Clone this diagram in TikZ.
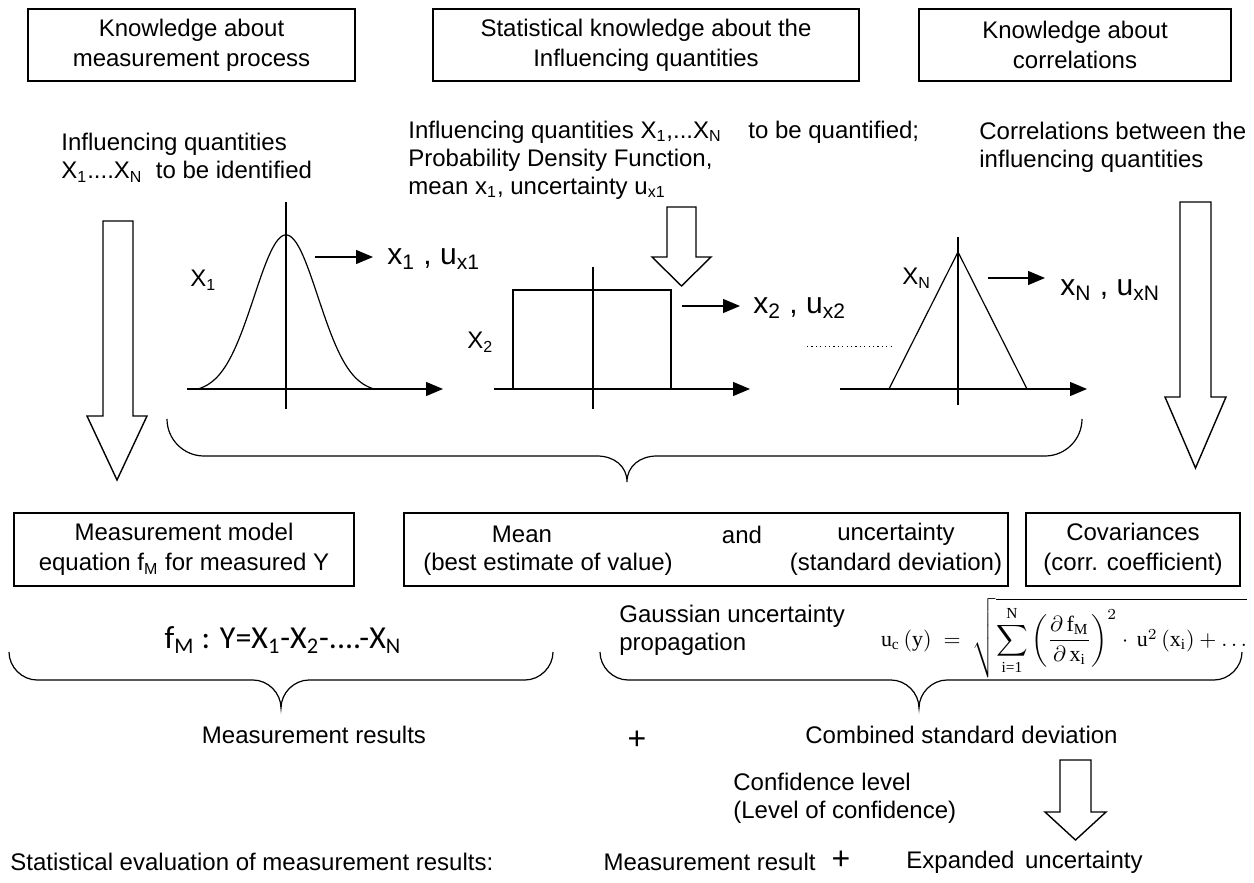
\documentclass[tikz,border=0pt]{standalone}
\usepackage{amsmath}
\usepackage{graphicx}
\usepackage{fontspec}
\setmainfont{Liberation Sans}
\newfontfamily\calib{Carlito}
\newfontfamily\timesf{Liberation Serif}
\usetikzlibrary{arrows.meta}
\newcommand\fsa{\fontsize{12}{14}\selectfont}
\newcommand\fsbox{\fontsize{12}{15}\selectfont}
\newcommand\fsb{\fontsize{15}{18}\selectfont}
\newcommand\fsc{\fontsize{16}{19}\selectfont}
\newcommand\tm[1]{\text{\timesf #1}}
\newcommand\sub[1]{\textsubscript{#1}}
\begin{document}
\begin{tikzpicture}[x=0.5pt,y=-0.5pt,
  box/.style={draw, line width=0.7pt, inner sep=0pt, align=center, font=\fsbox},
  txt/.style={inner sep=0pt, font=\fsa, align=left},
  big/.style={inner sep=0pt, font=\fsb},
  ln/.style={line width=0.6pt},
  axis/.style={line width=0.6pt, -{Triangle[length=8.5pt,width=7pt]}},
  blockarrow/.style={draw, line width=0.7pt, fill=white, line join=miter},
  brace/.style={line width=0.6pt}
]
\useasboundingbox[fill=white] (0,0) rectangle (1254,883);

% top boxes
\node[box, minimum width=163.5pt, minimum height=36pt] (k1) at (191.5,45) {Knowledge about\\measurement process};
\node[box, minimum width=213pt, minimum height=36pt] (k2) at (646,45) {Statistical knowledge about the\\Influencing quantities};
\node[box, minimum width=156pt, minimum height=36pt] (k3) at (1075,45) {Knowledge about\\correlations};

% descriptive texts
\node[txt, anchor=west] (t1) at (61,158) {Influencing quantities\\X\sub{1}....X\sub{N}\ \ to be identified};
\node[txt, anchor=west] (t2) at (408,160) {Influencing quantities X\sub{1},...X\sub{N}\ \ \ \ to be quantified;\\Probability Density Function,\\mean x\sub{1}, uncertainty u\sub{x1}};
\node[txt, anchor=west] (t3) at (979,147) {Correlations between the\\influencing quantities};

% Gaussian
\node[txt, anchor=west] (lx1) at (190,280) {X\sub{1}};
\coordinate (g1a) at (187,389); \coordinate (g1b) at (443,389);
\coordinate (g1c) at (286,202); \coordinate (g1d) at (286,409);
\draw[axis] (g1a) -- (g1b);
\draw[ln] (g1c) -- (g1d);
\draw[ln] plot[domain=-88:88, samples=80, smooth] ({286+\x},{389-157.7*(exp(-\x*\x/2048)-0.0229)});
\coordinate (a1s) at (315,257); \coordinate (a1e) at (373,257);
\draw[axis] (a1s) -- (a1e);
\node[big, anchor=west] (r1) at (387,259) {x\sub{1} , u\sub{x1}};

% rectangular
\node[txt, anchor=west] (lx2) at (467,342) {X\sub{2}};
\coordinate (g2a) at (494,389); \coordinate (g2b) at (750,389);
\coordinate (g2c) at (593,267); \coordinate (g2d) at (593,409);
\draw[axis] (g2a) -- (g2b);
\draw[ln] (g2c) -- (g2d);
\draw[ln] (513,389) -- (513,290) -- (671,290) -- (671,389);
\coordinate (a2s) at (682,306); \coordinate (a2e) at (740,306);
\draw[axis] (a2s) -- (a2e);
\node[big, anchor=west] (r2) at (753,308) {x\sub{2} , u\sub{x2}};

% dotted
\coordinate (d1) at (807,346); \coordinate (d2) at (892,346);
\draw[line width=0.5pt, dash pattern=on 0.6pt off 1.6pt] (d1) -- (d2);

% triangular
\node[txt, anchor=west] (lxn) at (902,278) {X\sub{N}};
\coordinate (g3a) at (840,389); \coordinate (g3b) at (1087,389);
\coordinate (g3c) at (958,237); \coordinate (g3d) at (958,405);
\draw[axis] (g3a) -- (g3b);
\draw[ln] (g3c) -- (g3d);
\draw[ln, line join=miter] (889,389) -- (958,252) -- (1027,389);
\coordinate (a3s) at (988,278); \coordinate (a3e) at (1045,278);
\draw[axis] (a3s) -- (a3e);
\node[big, anchor=west] (r3) at (1060,290) {x\sub{N} , u\sub{xN}};

% block arrows
\draw[blockarrow] (103,221) -- (133,221) -- (133,416) -- (147,416) -- (117,480) -- (87,416) -- (103,416) -- cycle;
\draw[blockarrow] (1180,202) -- (1211,202) -- (1211,397) -- (1226,397) -- (1195.5,468) -- (1165,397) -- (1180,397) -- cycle;
\draw[blockarrow] (667,207) -- (696,207) -- (696,257) -- (711,257) -- (681.5,286) -- (652,257) -- (667,257) -- cycle;

% big brace
\draw[brace] (167,419) .. controls (167,439.4) and (183.6,456) .. (204,456) -- (597,456)
  .. controls (614,456) and (627,466) .. (627,482)
  .. controls (627,466) and (640,456) .. (657,456) -- (1045,456)
  .. controls (1065.4,456) and (1082,439.4) .. (1082,419);

% middle boxes
\node[box, minimum width=170pt, minimum height=36.5pt] (mA) at (184,549.5) {Measurement model\\equation f\sub{M} for measured Y};
\node[box, minimum width=302pt, minimum height=36.5pt] (mB) at (706,549.5) {};
\node[box, minimum width=107pt, minimum height=36.5pt] (mC) at (1133,549.5) {Covariances\\(corr. coefficient)};
\node[txt] (bm) at (522,534.5) {Mean};
\node[txt] (band) at (742,534.5) {and};
\node[txt] (bu) at (896,534.5) {uncertainty};
\node[txt] (bbe) at (548,564.5) {(best estimate of value)};
\node[txt] (bsd) at (896,564.5) {(standard deviation)};

% model equation and brace
\node[inner sep=0pt, font=\calib\fsc] (fm) at (283,640) {f\sub{M} : Y=X\sub{1}-X\sub{2}-....-X\sub{N}};
\draw[brace] (9,652) .. controls (9,667) and (22,680) .. (37,680) -- (253,680)
  .. controls (268,680) and (281,693) .. (281,708)
  .. controls (281,693) and (294,680) .. (309,680) -- (525,680)
  .. controls (540,680) and (553,667) .. (553,652);

% Gaussian propagation
\node[txt, anchor=west] (gu) at (619,630) {Gaussian uncertainty\\propagation};
\node[inner sep=0pt] (form) at (1064,638) {\resizebox{183pt}{!}{$\displaystyle \tm{u}_{\tm{c}}\,(\tm{y})\;=\;\sqrt{\sum_{\tm{i=1}}^{\tm{N}}\left(\frac{\partial\,\tm{f}_{\tm{M}}}{\partial\,\tm{x}_{\tm{i}}}\right)^{2}\cdot\,\tm{u}^{2}\,(\tm{x}_{\tm{i}})+\ldots}$}};
\draw[brace] (600,652) .. controls (600,667) and (613,680) .. (628,680) -- (891,680)
  .. controls (906,680) and (919,693) .. (919,708)
  .. controls (919,693) and (932,680) .. (947,680) -- (1214,680)
  .. controls (1229,680) and (1242,667) .. (1242,652);

% results row
\node[txt] (mr) at (314,735) {Measurement results};
\node[inner sep=0pt, font=\fsc] (p1) at (637,740) {+};
\node[txt, anchor=west] (csd) at (805,735) {Combined standard deviation};
\node[txt, anchor=west] (cl) at (733,798) {Confidence level\\(Level of confidence)};
\draw[blockarrow] (1060,760) -- (1091,760) -- (1091,812) -- (1106,812) -- (1075.5,840) -- (1045,812) -- (1060,812) -- cycle;

% bottom row
\node[txt, anchor=west] (se) at (10,862) {Statistical evaluation of measurement results:};
\node[txt, anchor=east] (mres) at (816,862) {Measurement result};
\node[inner sep=0pt, font=\fsc] (p2) at (841,860) {+};
\node[txt, anchor=west] (eu) at (906,862) {Expanded\ \,uncertainty};
\end{tikzpicture}
\end{document}
